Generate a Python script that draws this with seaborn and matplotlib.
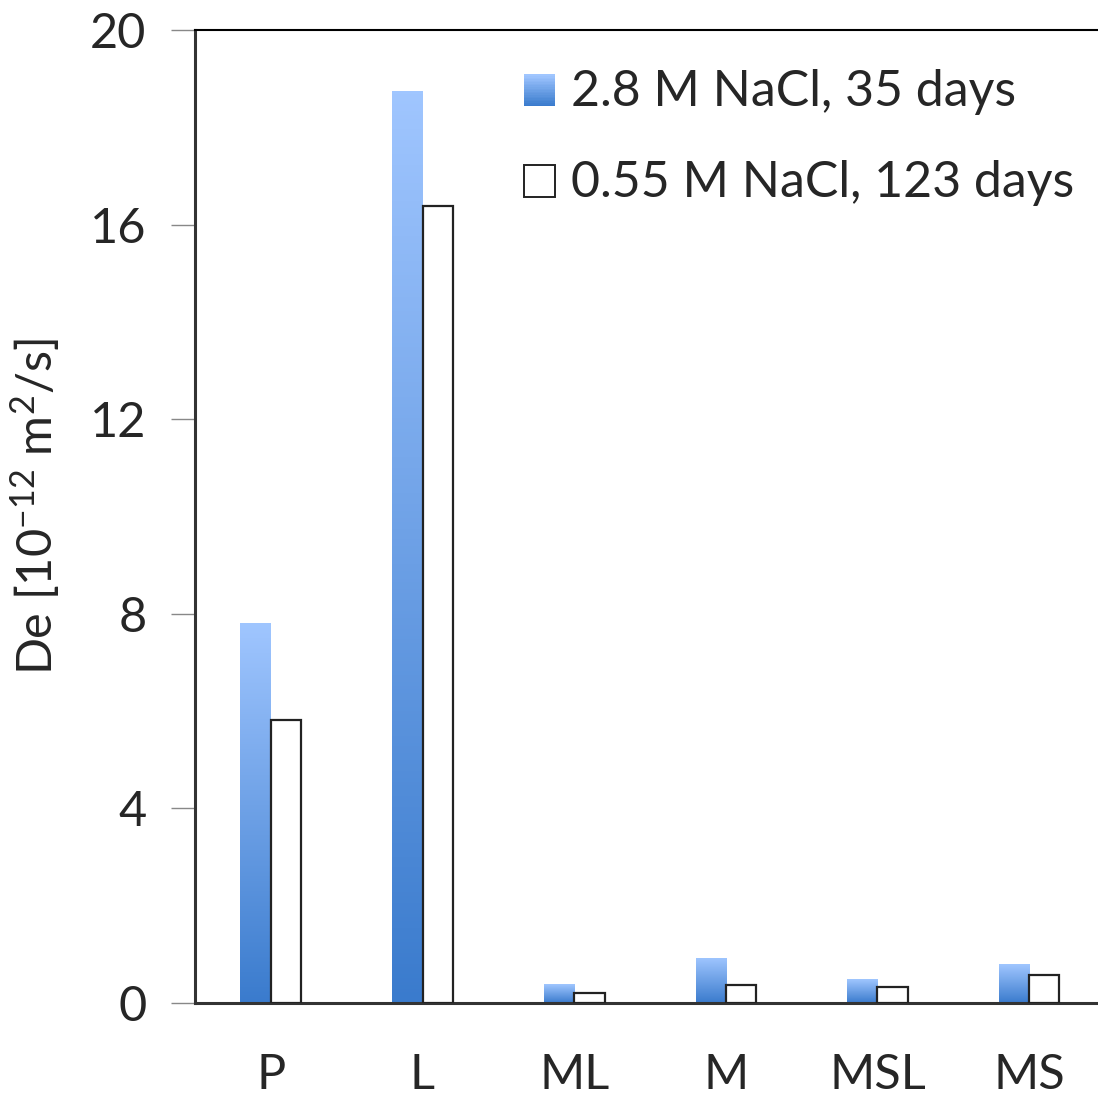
import numpy as np
import pandas as pd
import matplotlib
matplotlib.use("Agg")
import matplotlib.pyplot as plt
import seaborn as sns
from matplotlib.patches import Rectangle
from matplotlib.legend_handler import HandlerBase
from matplotlib.colors import LinearSegmentedColormap

categories = ["P", "L", "ML", "M", "MSL", "MS"]
series_names = ["2.8 M NaCl, 35 days", "0.55 M NaCl, 123 days"]
values_28M = [7.82, 18.75, 0.39, 0.93, 0.49, 0.80]
values_055M = [5.82, 16.38, 0.21, 0.37, 0.33, 0.58]
yticks = [0, 4, 8, 12, 16, 20]

sns.set_style("white")
plt.rcParams["font.family"] = ["Lato", "DejaVu Sans"]
plt.rcParams["mathtext.default"] = "regular"

df = pd.DataFrame({
    "cat": categories * 2,
    "series": [series_names[0]] * 6 + [series_names[1]] * 6,
    "value": values_28M + values_055M,
})

fig = plt.figure(figsize=(10.98, 10.96), dpi=100)
ax = fig.add_axes([195 / 1098, 93 / 1096, (1105 - 195) / 1098, 973 / 1096])

sns.barplot(data=df, x="cat", y="value", hue="series", order=categories,
            hue_order=series_names, width=0.4, dodge=True, ax=ax,
            errorbar=None, legend=False)

top_c = "#A0C6FF"
bot_c = "#3A7BCD"
cmap = LinearSegmentedColormap.from_list("grad", [bot_c, top_c])
grad = np.linspace(1, 0, 256).reshape(-1, 1)

for bar in ax.containers[0]:
    bar.set_facecolor("none")
    bar.set_edgecolor("none")
    x0 = bar.get_x()
    w = bar.get_width()
    h = bar.get_height()
    im = ax.imshow(grad, cmap=cmap, extent=(x0, x0 + w, 0, h), aspect="auto",
                   origin="upper", zorder=2, vmin=0, vmax=1)
    im.set_clip_path(bar)

for bar in ax.containers[1]:
    bar.set_facecolor("white")
    bar.set_edgecolor("#222222")
    bar.set_linewidth(1.6)
    bar.set_zorder(3)

ax.set_xlim(-0.5, 5.5)
ax.set_ylim(0, 20)
ax.set_yticks(yticks)
ax.set_yticklabels([str(t) for t in yticks], fontsize=35)
ax.tick_params(axis="y", length=17, width=1, color="#888888", pad=18, left=True)
ax.tick_params(axis="x", length=0, labelsize=35, pad=36)
ax.set_xlabel("")
ax.set_ylabel("De [10$^{-12}$ m$^{2}$/s]", fontsize=35)
ax.yaxis.set_label_coords(-0.146, 0.51)

for s in ["left", "bottom"]:
    ax.spines[s].set_color("#333333")
    ax.spines[s].set_linewidth(2.2)
ax.spines["top"].set_color("black")
ax.spines["top"].set_linewidth(1.5)
ax.spines["right"].set_visible(False)


class GradHandler(HandlerBase):
    def create_artists(self, legend, orig_handle, xdescent, ydescent, width,
                       height, fontsize, trans):
        n = 20
        size = height
        x0 = -xdescent + (width - size) / 2
        y0 = -ydescent + (height - size) / 2 - 1
        arts = []
        for i in range(n):
            c = cmap(i / (n - 1))
            r = Rectangle((x0, y0 + i * size / n), size, size / n + 0.3,
                          facecolor=c, edgecolor="none", transform=trans)
            arts.append(r)
        return arts


class BoxHandler(HandlerBase):
    def create_artists(self, legend, orig_handle, xdescent, ydescent, width,
                       height, fontsize, trans):
        size = height
        x0 = -xdescent + (width - size) / 2
        y0 = -ydescent + (height - size) / 2 - 1
        return [Rectangle((x0, y0), size, size, facecolor="white",
                          edgecolor="#222222", linewidth=1.4, transform=trans)]


h1 = Rectangle((0, 0), 1, 1)
h2 = Rectangle((0, 0), 1, 1, facecolor="white")
leg = ax.legend([h1, h2], series_names, handler_map={h1: GradHandler(), h2: BoxHandler()},
                loc="upper left", bbox_to_anchor=(0.34, 0.98), frameon=False,
                fontsize=36, handlelength=0.6, handleheight=0.6,
                handletextpad=0.34, labelspacing=0.9, borderaxespad=0)

fig.savefig("out.png", dpi=100)
